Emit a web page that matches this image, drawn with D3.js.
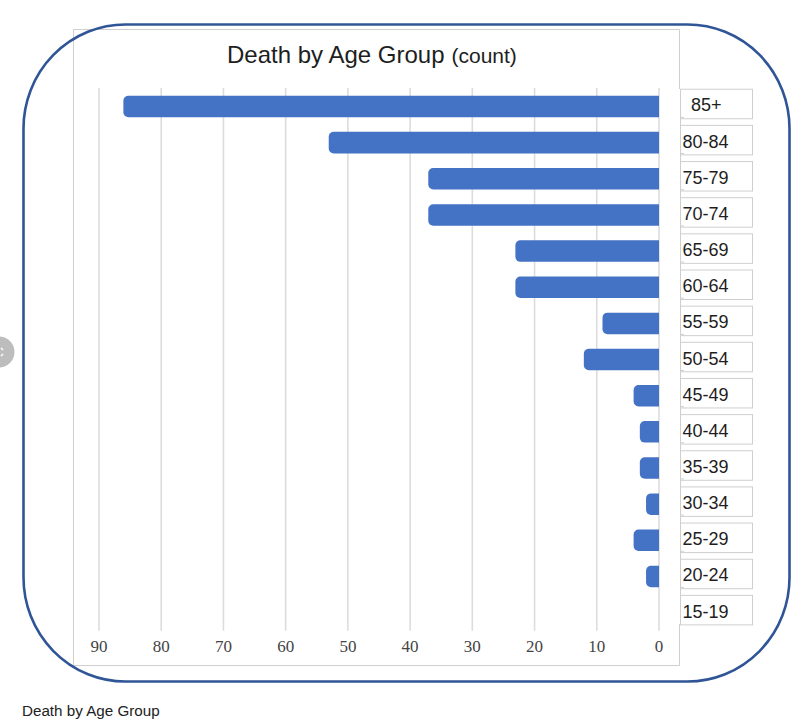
<!DOCTYPE html>
<html>
<head>
<meta charset="utf-8">
<script src="https://cdn.jsdelivr.net/npm/d3@7/dist/d3.min.js"></script>
<style>
  html, body { margin: 0; padding: 0; background: #fff; }
  svg { display: block; }
</style>
</head>
<body>
<svg id="chart" width="800" height="725"></svg>
<script>
const categories = ["85+", "80-84", "75-79", "70-74", "65-69", "60-64", "55-59", "50-54",
                    "45-49", "40-44", "35-39", "30-34", "25-29", "20-24", "15-19"];
const deaths = [86, 53, 37, 37, 23, 23, 9, 12, 4, 3, 3, 2, 4, 2, 0];
const xTickValues = [90, 80, 70, 60, 50, 40, 30, 20, 10, 0];
const titleMain = "Death by Age Group";
const titleUnit = "(count)";
const caption = "Death by Age Group";

const svg = d3.select("#chart");
const sans = "'Liberation Sans', Arial, Helvetica, sans-serif";
const serif = "'Liberation Serif', 'Times New Roman', serif";

// side gray circle (page UI)
svg.append("circle").attr("cx", -1).attr("cy", 352).attr("r", 15.5).attr("fill", "#bdbdbd");
svg.append("path").attr("d", "M1,348 l2,2 M1,356 l2,-2").attr("stroke", "#fff").attr("stroke-width", 1.5).attr("fill", "none");

// inner chart frame
svg.append("path")
  .attr("d", "M679.5,89 V29.5 H73.5 V665.5 H679.5 V624")
  .attr("fill", "none").attr("stroke", "#cfcfcf").attr("stroke-width", 1);

const x = d3.scaleLinear().domain([0, 90]).range([658.5, 98.5]);
const y = d3.scaleBand().domain(categories).range([88.4, 630.7]).paddingInner(0.405).paddingOuter(0.2025);

// gridlines + tick labels
const axis = d3.axisBottom(x).tickValues(xTickValues).tickSize(-(630.7 - 88)).tickPadding(9).tickFormat(d3.format("d"));
const gAxis = svg.append("g").attr("transform", "translate(0,630.7)").call(axis);
gAxis.select(".domain").remove();
gAxis.selectAll(".tick line").attr("stroke", "#dcdcdc").attr("stroke-width", 1.6);
gAxis.selectAll(".tick text").attr("fill", "#444").style("font-family", serif).style("font-size", "17px");

// bars with rounded left corners
function barPath(v, cat) {
  const x0 = x(v), x1 = x(0) + 0.5, y0 = y(cat), h = y.bandwidth();
  const r = Math.min(5, (x1 - x0) / 2, h / 2);
  return `M${x1},${y0} H${x0 + r} A${r},${r} 0 0 0 ${x0},${y0 + r} V${y0 + h - r} A${r},${r} 0 0 0 ${x0 + r},${y0 + h} H${x1} Z`;
}
svg.append("g").selectAll("path")
  .data(categories.map((c, i) => ({ c, v: deaths[i] })).filter(d => d.v > 0))
  .join("path")
  .attr("d", d => barPath(d.v, d.c))
  .attr("fill", "#4472c4");

// category label boxes
const gLab = svg.append("g");
categories.forEach((c, i) => {
  const cy = y(c) + y.bandwidth() / 2 - 2.5;
  const top = cy - 14.75, h = 29.5;
  gLab.append("rect").attr("x", 680.5).attr("y", top).attr("width", 72).attr("height", h)
    .attr("fill", "#fff").attr("stroke", "#cfcfcf").attr("stroke-width", 1);
  if (i > 0) {
    gLab.append("path").attr("d", `M680.5,${top} V${top - 8} H684`)
      .attr("fill", "none").attr("stroke", "#cfcfcf").attr("stroke-width", 1);
  }
  gLab.append("text")
    .attr("x", i === 0 ? 691 : 682.5)
    .attr("y", cy + 7.5)
    .attr("fill", "#1e1e1e")
    .style("font-family", sans).style("font-size", "18px")
    .text(c);
});

// title
const t = svg.append("text").attr("x", 227).attr("y", 63).attr("fill", "#1e1e1e").style("font-family", sans);
t.append("tspan").style("font-size", "24px").text(titleMain);
t.append("tspan").attr("dx", 7).style("font-size", "21px").text(titleUnit);

// outer rounded frame
svg.append("rect").attr("x", 23.5).attr("y", 24.5).attr("width", 766).attr("height", 657)
  .attr("rx", 102).attr("ry", 104)
  .attr("fill", "none").attr("stroke", "#2f5597").attr("stroke-width", 2.6);

// caption
svg.append("text").attr("x", 22).attr("y", 716).attr("fill", "#222")
  .style("font-family", sans).style("font-size", "15.2px").text(caption);
</script>
</body>
</html>
